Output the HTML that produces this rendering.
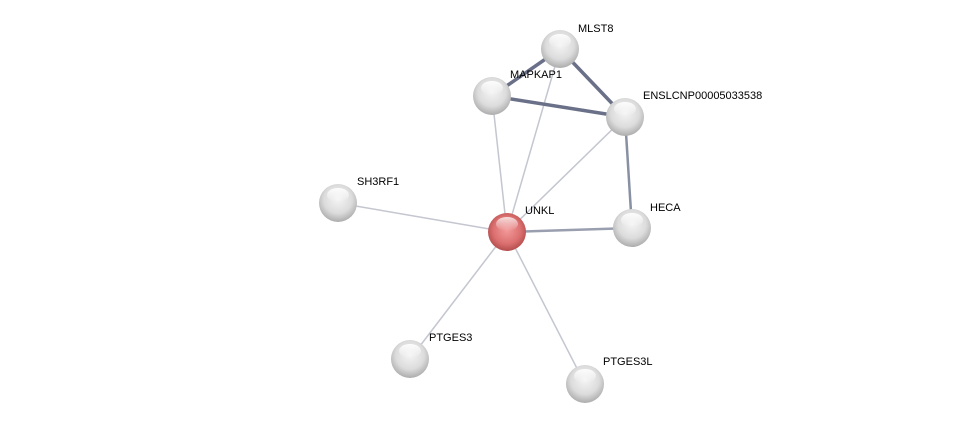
<!DOCTYPE html>
<html><head><style>body{margin:0;background:#fff}svg{display:block}text{font-family:"Liberation Sans",sans-serif;font-size:11px;fill:#000}</style></head><body>
<svg width="975" height="429" viewBox="0 0 975 429">
<defs>
<radialGradient id="g" cx="50%" cy="40%" r="62%"><stop offset="0" stop-color="#f4f4f4"/><stop offset="0.6" stop-color="#dcdcdc"/><stop offset="1" stop-color="#a8a8a8"/></radialGradient>
<radialGradient id="r" cx="50%" cy="45%" r="60%"><stop offset="0" stop-color="#f29a9a"/><stop offset="0.6" stop-color="#dc7070"/><stop offset="1" stop-color="#a84444"/></radialGradient>
<linearGradient id="h" x1="0" y1="0" x2="0" y2="1"><stop offset="0" stop-color="#fff" stop-opacity="0.95"/><stop offset="1" stop-color="#fff" stop-opacity="0"/></linearGradient>
</defs>
<g stroke="#c4c6d0" stroke-width="1.5">
<line x1="507" y1="232" x2="338" y2="203"/>
<line x1="507" y1="232" x2="410" y2="359"/>
<line x1="507" y1="232" x2="585" y2="384"/>
<line x1="507" y1="232" x2="492" y2="96"/>
<line x1="507" y1="232" x2="560" y2="49"/>
<line x1="507" y1="232" x2="625" y2="117"/>
</g>
<line x1="507" y1="232" x2="632" y2="228" stroke="#9a9fb0" stroke-width="2.5"/>
<line x1="625" y1="117" x2="632" y2="228" stroke="#8a90a4" stroke-width="2.5"/>
<g stroke="#6a7088" stroke-width="3.5">
<line x1="492" y1="96" x2="560" y2="49"/>
<line x1="492" y1="96" x2="625" y2="117"/>
<line x1="560" y1="49" x2="625" y2="117"/>
</g>
<g>
<circle cx="560" cy="49" r="19" fill="url(#g)"/><ellipse cx="560" cy="41" rx="11" ry="7" fill="url(#h)"/>
<circle cx="492" cy="96" r="19" fill="url(#g)"/><ellipse cx="492" cy="88" rx="11" ry="7" fill="url(#h)"/>
<circle cx="625" cy="117" r="19" fill="url(#g)"/><ellipse cx="625" cy="109" rx="11" ry="7" fill="url(#h)"/>
<circle cx="338" cy="203" r="19" fill="url(#g)"/><ellipse cx="338" cy="195" rx="11" ry="7" fill="url(#h)"/>
<circle cx="632" cy="228" r="19" fill="url(#g)"/><ellipse cx="632" cy="220" rx="11" ry="7" fill="url(#h)"/>
<circle cx="410" cy="359" r="19" fill="url(#g)"/><ellipse cx="410" cy="351" rx="11" ry="7" fill="url(#h)"/>
<circle cx="585" cy="384" r="19" fill="url(#g)"/><ellipse cx="585" cy="376" rx="11" ry="7" fill="url(#h)"/>
<circle cx="507" cy="232" r="19" fill="url(#r)"/><ellipse cx="507" cy="224" rx="11" ry="7" fill="url(#h)" opacity="0.8"/>
</g>
<text x="578" y="32">MLST8</text>
<text x="510" y="78">MAPKAP1</text>
<text x="643" y="99">ENSLCNP00005033538</text>
<text x="357" y="185">SH3RF1</text>
<text x="525" y="214">UNKL</text>
<text x="650" y="211">HECA</text>
<text x="429" y="341">PTGES3</text>
<text x="603" y="365">PTGES3L</text>
</svg>
</body></html>
